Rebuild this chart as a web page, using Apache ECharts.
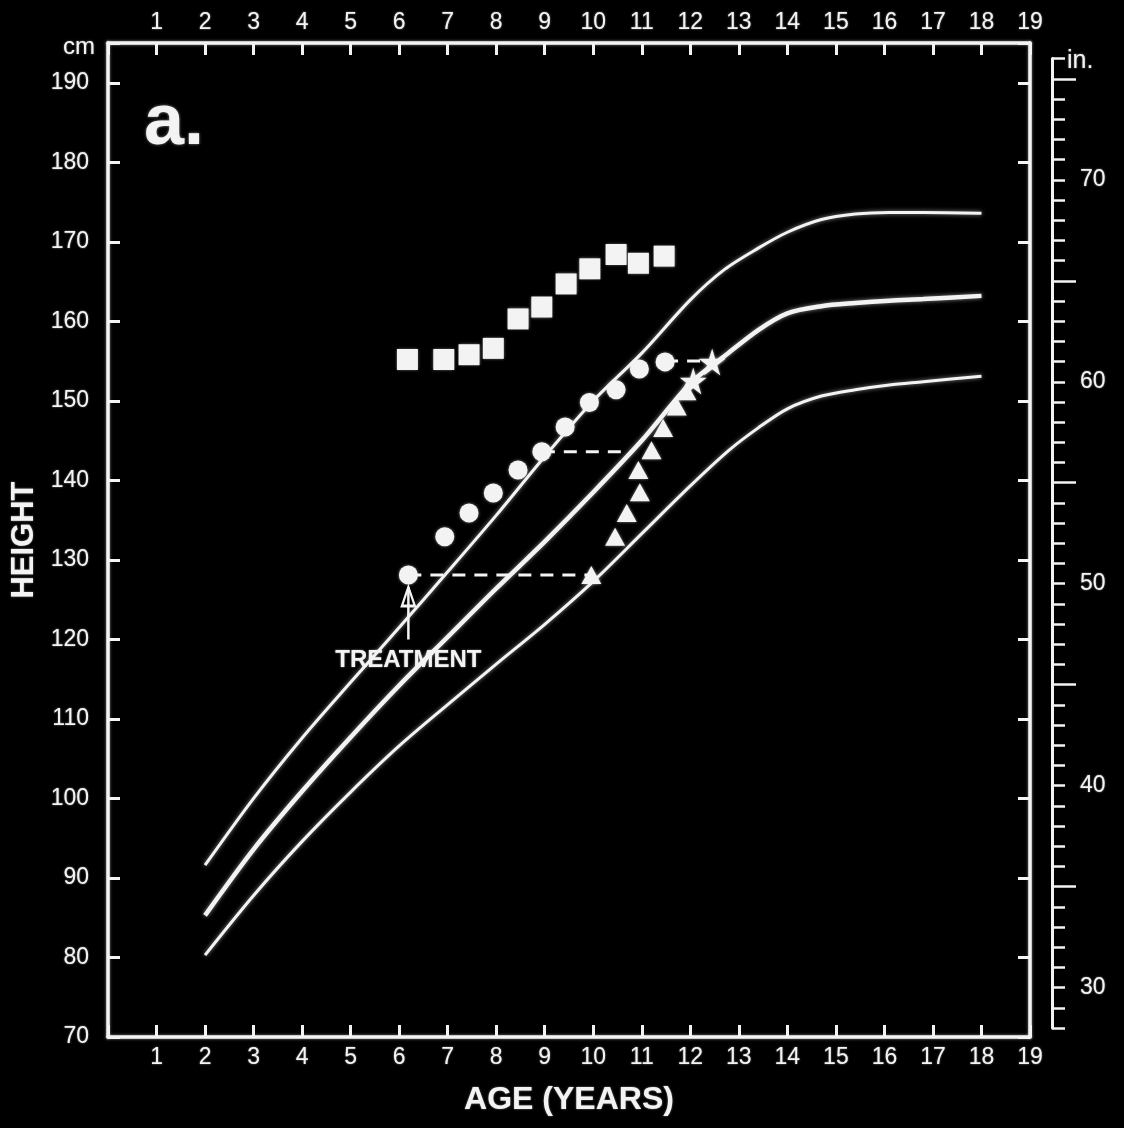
<!DOCTYPE html>
<html><head><meta charset="utf-8">
<script src="https://cdn.jsdelivr.net/npm/echarts@6/dist/echarts.min.js"></script>
<style>html,body{margin:0;padding:0;background:#000;}#c{width:1124px;height:1128px;}</style>
</head><body><div id="c"></div>
<script>
// ---- tick labels ----
const ageTicks = [1,2,3,4,5,6,7,8,9,10,11,12,13,14,15,16,17,18,19];
const cmTicks = [70,80,90,100,110,120,130,140,150,160,170,180,190];
const inchTicks = [30,40,50,60,70];
const inchLongTicks = [35,45,55,65,75];

// ---- reference growth curves (age in years, height in cm) ----
const upperAge = [2,3,4,5,6,7,8,9,10,11,12,12.7,13.4,14,14.7,15.4,16.1,16.8,18];
const upperH   = [91.6,100,107.6,114.6,121.5,128.5,135.6,143,150,156,162.7,166.5,169.2,171.2,172.8,173.5,173.7,173.7,173.6];
const midAge   = [2,3,4,5,6,7,8,9,10,11,12,12.7,13.4,14,14.7,15.4,16.1,16.8,18];
const midH     = [85.3,93.6,100.9,107.7,114.2,120.3,126.4,132.3,138.5,145,152.2,155.6,158.9,161.0,161.9,162.3,162.6,162.8,163.2];
const lowAge   = [2,3,4,5,6,7,8,9,10,11,12,12.8,13.4,14,14.7,15.4,16.1,16.8,18];
const lowH     = [80.3,87.8,94.6,100.8,106.6,111.8,116.9,121.9,127.3,133.3,139.3,143.8,146.6,149,150.6,151.4,152.0,152.4,153.1];

// ---- patient data ----
const squareAge = [6.17,6.92,7.44,7.94,8.45,8.94,9.44,9.93,10.47,10.93,11.46];
const squareH   = [155.2,155.2,155.8,156.6,160.3,161.8,164.7,166.6,168.4,167.3,168.2];
const circleAge = [6.19,6.94,7.44,7.94,8.45,8.94,9.42,9.92,10.47,10.95,11.48];
const circleH   = [128.1,132.9,135.9,138.4,141.3,143.6,146.7,149.8,151.4,154.0,154.9];
const triAge    = [9.96,10.45,10.69,10.96,10.93,11.2,11.44,11.72,11.92];
const triH      = [128.1,132.9,135.9,138.5,141.3,143.8,146.6,149.3,151.2];
const starAge   = [12.06,12.45];
const starH     = [152.5,154.9];

// dashed connectors [age, height]
const dash1 = [[6.19,128.1],[9.96,128.1]];
const dash2 = [[8.94,143.6],[10.78,143.6]];
const dash3 = [[11.48,155.0],[12.45,155.0]];

// treatment annotation
const treatAge = 6.19;
const treatArrow = [120.0, 126.6];
const treatLabelH = 117.4;

const zip = (a,b) => a.map((v,i)=>[v,b[i]]);
const W = '#f3f3f3';
const GLOW = 'rgba(255,255,255,0.55)';
const FONT = 'Liberation Sans, Arial, sans-serif';

const gridLeft = 108, gridTop = 43, gridW = 922, gridH = 994;
const cmMin = 70, cmMax = 195, inMin = 28, inMax = 76;
const pxPerCm = gridH / (cmMax - cmMin);
const inTop = gridTop + (cmMax - inMax*2.54) * pxPerCm;
const inBottom = gridTop + gridH - (inMin*2.54 - cmMin) * pxPerCm;

const starPath = 'path://M50,0 L61,35 L98,35 L68,57 L79,91 L50,70 L21,91 L32,57 L2,35 L39,35 Z';

const frameLine = {show:true, onZero:false, lineStyle:{color:W, width:3.5, shadowColor:GLOW, shadowBlur:3}};
const frameTick = {show:true, inside:true, length:12, lineStyle:{color:W, width:3}};
const lbl = {color:W, fontFamily:FONT, fontSize:23, textShadowColor:GLOW, textShadowBlur:2};
const solid = {color:W, opacity:1, shadowColor:GLOW, shadowBlur:3};
const curve = w => ({color:W, width:w, shadowColor:GLOW, shadowBlur:4});

const chart = echarts.init(document.getElementById('c'));
chart.setOption({
  backgroundColor:'#000',
  animation:false,
  grid:[
    {left:gridLeft, top:gridTop, width:gridW, height:gridH},
    {left:1051, top:inTop, width:1, height:inBottom-inTop}
  ],
  xAxis:[
    {gridIndex:0, type:'value', min:0, max:19, interval:1, position:'bottom',
     axisLine:frameLine, axisTick:frameTick, splitLine:{show:false},
     axisLabel:Object.assign({margin:9, formatter:v=>ageTicks.includes(v)?String(v):''}, lbl),
     name:'AGE (YEARS)', nameLocation:'middle', nameGap:47,
     nameTextStyle:{color:W, fontFamily:FONT, fontSize:32, fontWeight:'bold', textShadowColor:GLOW, textShadowBlur:2}},
    {gridIndex:0, type:'value', min:0, max:19, interval:1, position:'top',
     axisLine:frameLine, axisTick:frameTick, splitLine:{show:false},
     axisLabel:Object.assign({margin:9, formatter:v=>ageTicks.includes(v)?String(v):''}, lbl)},
    {gridIndex:1, type:'value', min:0, max:1, show:false}
  ],
  yAxis:[
    {gridIndex:0, type:'value', min:cmMin, max:cmMax, interval:10, position:'left',
     axisLine:frameLine, axisTick:frameTick, splitLine:{show:false},
     axisLabel:Object.assign({margin:19, formatter:v=>cmTicks.includes(v)?String(v):''}, lbl),
     name:'HEIGHT', nameLocation:'middle', nameGap:62, nameRotate:90,
     nameTextStyle:{color:W, fontFamily:FONT, fontSize:31, fontWeight:'bold', textShadowColor:GLOW, textShadowBlur:2}},
    {gridIndex:0, type:'value', min:cmMin, max:cmMax, interval:10, position:'right',
     axisLine:frameLine, axisTick:frameTick, splitLine:{show:false}, axisLabel:{show:false}},
    {gridIndex:1, type:'value', min:inMin, max:inMax, interval:1, position:'right',
     axisLine:{show:true, onZero:false, lineStyle:{color:W, width:3}},
     axisTick:{show:true, length:13, lineStyle:{color:W, width:2.5}},
     splitLine:{show:false},
     axisLabel:Object.assign({margin:28, formatter:v=>inchTicks.includes(v)?String(v):''}, lbl)},
    {gridIndex:1, type:'value', min:inMin, max:inMax, position:'right',
     axisLine:{show:false, onZero:false},
     axisTick:{show:true, length:24, customValues:inchLongTicks, lineStyle:{color:W, width:2.5}},
     splitLine:{show:false}, axisLabel:{show:false}}
  ],
  graphic:[
    {type:'text', x:144, y:88, style:{text:'a.', fill:W, font:'bold 72px '+FONT, textShadowColor:GLOW, textShadowBlur:3}},
    {type:'text', x:95, y:47, style:{text:'cm', fill:W, font:'24px '+FONT, textAlign:'right', textVerticalAlign:'middle', textShadowColor:GLOW, textShadowBlur:2}},
    {type:'text', x:1067, y:61, style:{text:'in.', fill:W, font:'25px '+FONT, textAlign:'left', textVerticalAlign:'middle', textShadowColor:GLOW, textShadowBlur:2}}
  ],
  series:[
    {type:'line', data:zip(upperAge,upperH), showSymbol:false, smooth:0.3, lineStyle:curve(3), z:2},
    {type:'line', data:zip(midAge,midH), showSymbol:false, smooth:0.3, lineStyle:curve(4.5), z:2},
    {type:'line', data:zip(lowAge,lowH), showSymbol:false, smooth:0.3, lineStyle:curve(3), z:2},
    {type:'line', data:dash1, showSymbol:false, lineStyle:{color:W, width:3, type:[13,9]}, z:3},
    {type:'line', data:dash2, showSymbol:false, lineStyle:{color:W, width:3, type:[13,9]}, z:3},
    {type:'line', data:dash3, showSymbol:false, lineStyle:{color:W, width:3, type:[13,9]}, z:3},
    {type:'line', data:[[treatAge,treatArrow[0]],[treatAge,treatArrow[1]]], showSymbol:false, lineStyle:{color:W, width:2.5}, z:3},
    {type:'scatter', data:[[treatAge, treatArrow[1]-1.2]], symbol:'triangle', symbolSize:[13,19],
     itemStyle:{color:'rgba(0,0,0,0)', borderColor:W, borderWidth:2.5, opacity:1}, z:4},
    {type:'scatter', data:[[treatAge, treatLabelH]], symbolSize:0, itemStyle:{opacity:1},
     label:{show:true, position:'inside', formatter:'TREATMENT', color:W, fontFamily:FONT, fontSize:24, fontWeight:'bold', opacity:1, textShadowColor:GLOW, textShadowBlur:2}, z:5},
    {type:'scatter', data:zip(squareAge,squareH), symbol:'rect', symbolSize:21, itemStyle:solid, z:5},
    {type:'scatter', data:zip(circleAge,circleH), symbol:'circle', symbolSize:19, itemStyle:solid, z:5},
    {type:'scatter', data:zip(triAge,triH), symbol:'triangle', symbolSize:[20,18], itemStyle:solid, z:5},
    {type:'scatter', data:zip(starAge,starH), symbol:starPath, symbolSize:27, itemStyle:solid, z:5}
  ]
});
</script>
</body></html>
